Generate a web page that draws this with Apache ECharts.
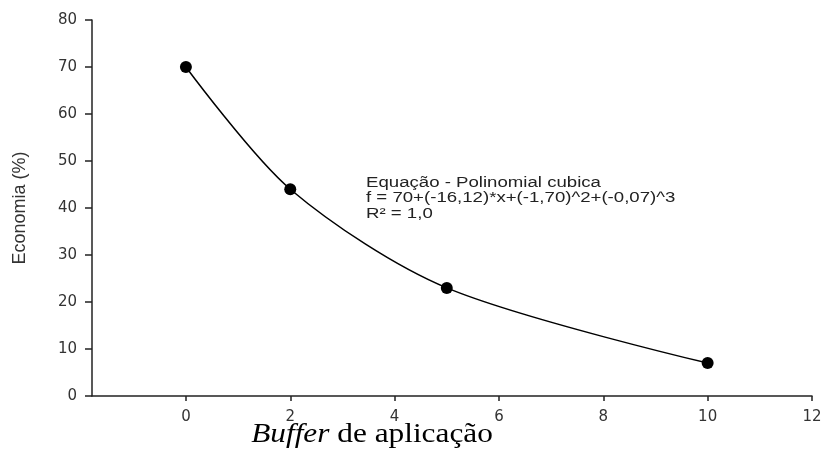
<!DOCTYPE html>
<html>
<head>
<meta charset="utf-8">
<script src="https://cdn.jsdelivr.net/npm/echarts@6/dist/echarts.min.js"></script>
<style>html,body{margin:0;padding:0;background:#fff}#c{width:827px;height:452px}</style>
</head>
<body>
<div id="c"></div>
<script>
const xValues = [0, 2, 5, 10];
const yValues = [70, 44, 23, 7];
const xTicks = [0, 2, 4, 6, 8, 10, 12];
const yTicks = [0, 10, 20, 30, 40, 50, 60, 70, 80];
const annotationLines = ['Equação - Polinomial cubica', 'f = 70+(-16,12)*x+(-1,70)^2+(-0,07)^3', 'R² = 1,0'];
const yTitle = 'Economia (%)';
const xTitleItalic = 'Buffer';
const xTitleRest = ' de aplicação';

const chart = echarts.init(document.getElementById('c'));
const axisColor = '#222';
const tickFont = 'DejaVu Sans, Liberation Sans, Arial, sans-serif';
chart.setOption({
  animation: false,
  backgroundColor: '#fff',
  grid: { left: 92, right: 15, top: 20, bottom: 56 },
  xAxis: {
    type: 'value', min: -1.8, max: 12,
    axisLine: { show: true, onZero: false, lineStyle: { color: axisColor, width: 1.5 } },
    axisTick: { show: true, length: 5, customValues: xTicks, lineStyle: { color: axisColor, width: 1.5 } },
    axisLabel: { customValues: xTicks, margin: 14, color: '#333', fontSize: 15, fontFamily: tickFont },
    splitLine: { show: false }
  },
  yAxis: {
    type: 'value', min: 0, max: 80, interval: 10,
    name: yTitle, nameLocation: 'middle', nameGap: 63, nameRotate: 90,
    nameTextStyle: { color: '#333', fontSize: 18, fontFamily: 'Liberation Sans, Arial, sans-serif' },
    axisLine: { show: true, onZero: false, lineStyle: { color: axisColor, width: 1.5 } },
    axisTick: { show: true, length: 7, lineStyle: { color: axisColor, width: 1.5 } },
    axisLabel: { margin: 15, color: '#333', fontSize: 15, fontFamily: tickFont },
    splitLine: { show: false }
  },
  series: [{
    type: 'line',
    data: xValues.map((x, i) => [x, yValues[i]]),
    smooth: 0.3,
    symbol: 'circle', symbolSize: 12,
    lineStyle: { color: '#000', width: 1.5 },
    itemStyle: { color: '#000' }
  }],
  graphic: [
    {
      type: 'text', x: 366, y: 175, scaleX: 1.33, scaleY: 1,
      style: {
        text: annotationLines.join('\n'),
        fill: '#222', fontSize: 14, lineHeight: 15.5,
        fontFamily: 'Liberation Sans, Arial, sans-serif'
      }
    },
    {
      type: 'text', x: 372, y: 435, scaleX: 1.16, scaleY: 1,
      style: {
        text: '{i|' + xTitleItalic + '}{r|' + xTitleRest + '}',
        align: 'center', verticalAlign: 'middle',
        rich: {
          i: { fontStyle: 'italic', fontSize: 27, fontFamily: 'Liberation Serif', fill: '#000' },
          r: { fontSize: 27, fontFamily: 'Liberation Serif', fill: '#000' }
        }
      }
    }
  ]
});
</script>
</body>
</html>
